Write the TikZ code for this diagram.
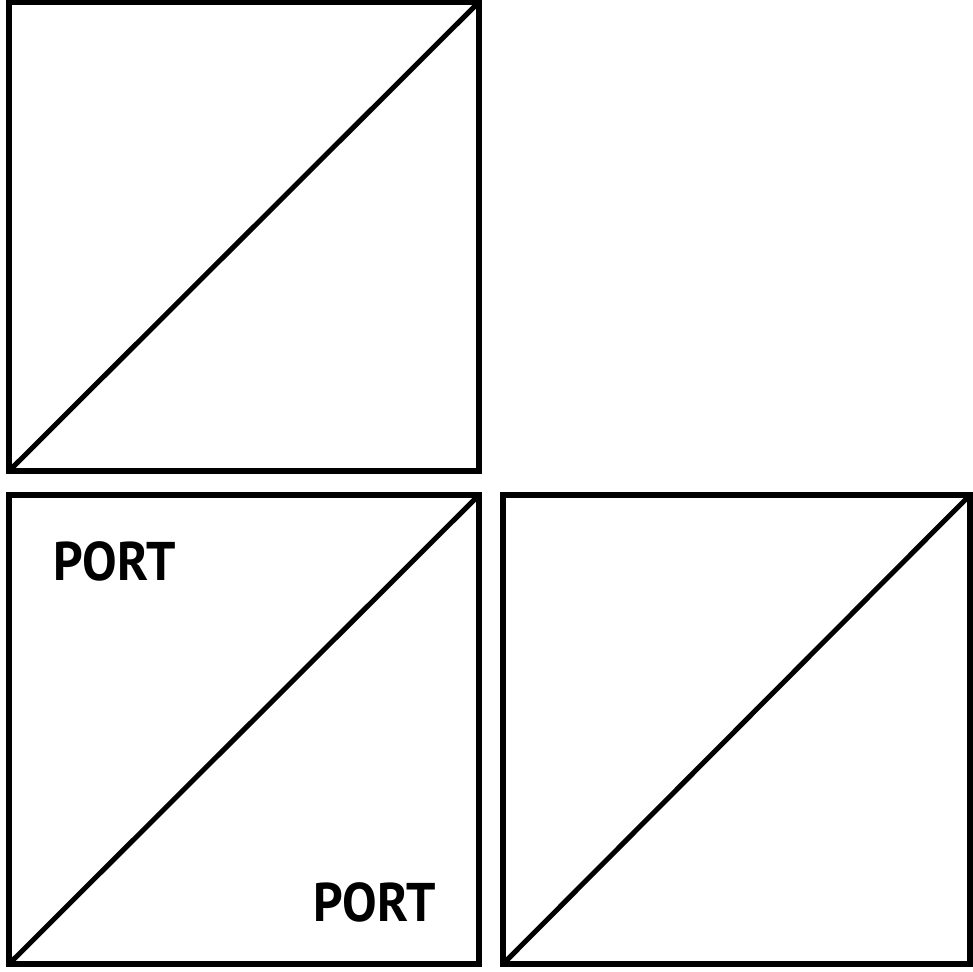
\documentclass[tikz,border=0pt]{standalone}
\usepackage{fontspec}
\setsansfont{PT Sans}
\begin{document}
\begin{tikzpicture}[x=0.02cm,y=-0.02cm,line join=miter]
        \tikzset{panel/.style={draw, line width=0.12cm, inner sep=0pt, outer sep=0pt, minimum height=9.38cm},
                 portlabel/.style={font=\sffamily\bfseries\fontsize{31}{31}\selectfont, inner sep=0pt, xscale=0.95}}
        \useasboundingbox (0,0) rectangle (973,971);
        \node[panel, minimum width=9.4cm] (top) at (244,236.5) {};
        \node[panel, minimum width=9.4cm] (left) at (244,729.5) {};
        \node[panel, minimum width=9.34cm] (right) at (736.5,729.5) {};
        \draw[line width=0.1cm] (top.south west) -- (top.north east);
        \draw[line width=0.1cm] (left.south west) -- (left.north east);
        \draw[line width=0.1cm] (right.south west) -- (right.north east);
        \node[portlabel] (port1) at (114.5,561) {PORT};
        \node[portlabel] (port2) at (374.5,902) {PORT};
    \end{tikzpicture}
\end{document}
